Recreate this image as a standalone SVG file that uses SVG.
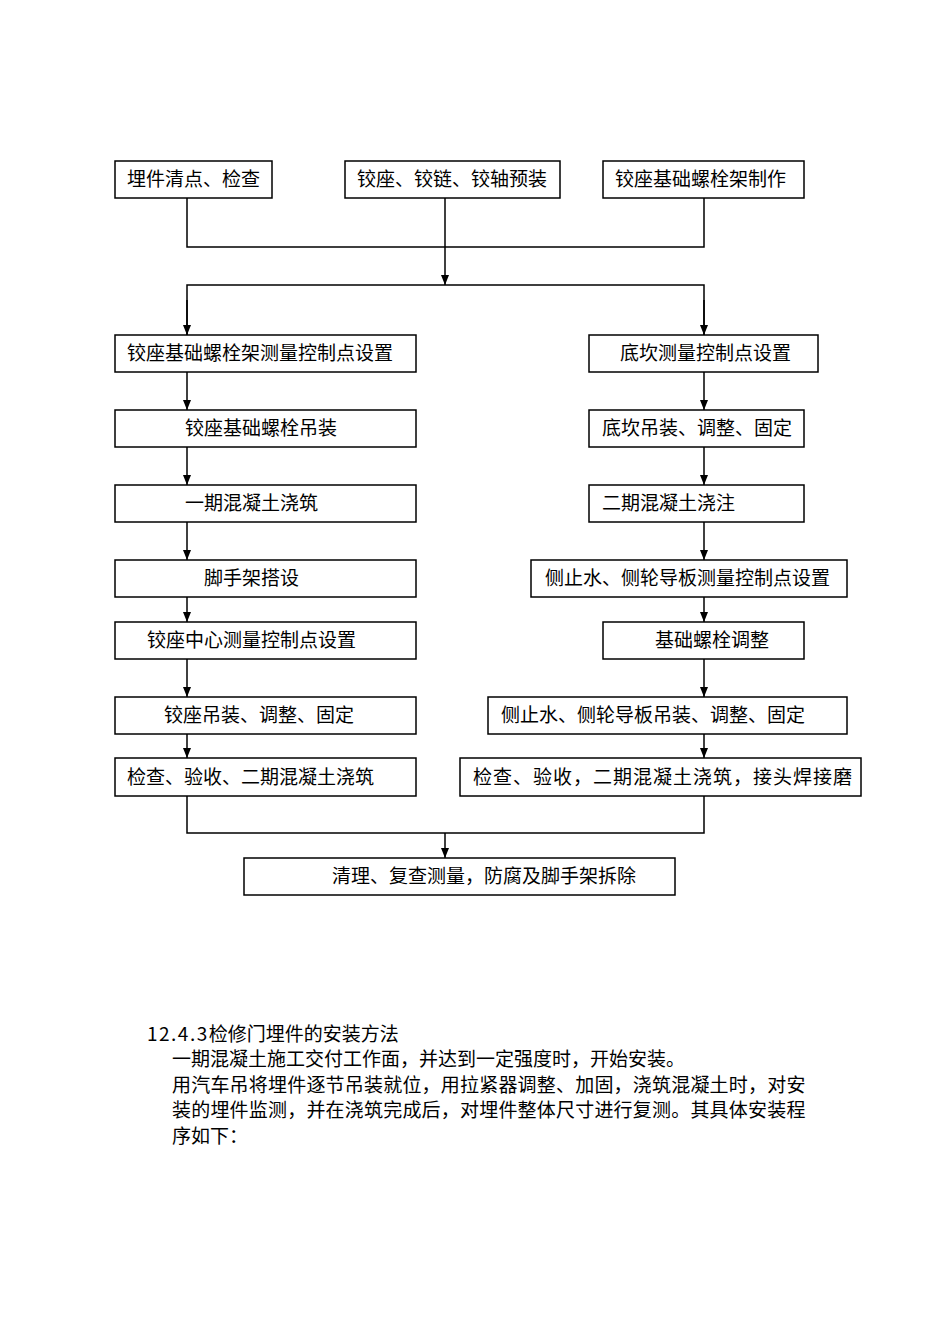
<svg xmlns="http://www.w3.org/2000/svg" width="950" height="1344" viewBox="0 0 950 1344">
<style>
.b{fill:#fff;stroke:#000;stroke-width:1.5}
.t{font-family:"Noto Sans CJK SC","Noto Sans CJK JP",sans-serif;font-size:19px;fill:#000}
.c{fill:none;stroke:#000;stroke-width:1.5}
</style>
<defs>
<marker id="a" markerUnits="userSpaceOnUse" markerWidth="10" markerHeight="10" refX="10" refY="4" orient="auto">
<path d="M0,0 L10,4 L0,8 z" fill="#000"/>
</marker>
</defs>
<rect width="950" height="1344" fill="#fff"/>
<g id="connectors">
<path class="c" d="M187,198 V247 H704 V198"/>
<path class="c" d="M445,198 V285" marker-end="url(#a)"/>
<path class="c" d="M187,335 V285 H704 V335" />
<path class="c" d="M187,300 V335" marker-end="url(#a)"/>
<path class="c" d="M704,300 V335" marker-end="url(#a)"/>
<path class="c" d="M187,372 V410" marker-end="url(#a)"/>
<path class="c" d="M187,447 V485" marker-end="url(#a)"/>
<path class="c" d="M187,522 V560" marker-end="url(#a)"/>
<path class="c" d="M187,597 V622" marker-end="url(#a)"/>
<path class="c" d="M187,659 V697" marker-end="url(#a)"/>
<path class="c" d="M187,734 V758" marker-end="url(#a)"/>
<path class="c" d="M704,372 V410" marker-end="url(#a)"/>
<path class="c" d="M704,447 V485" marker-end="url(#a)"/>
<path class="c" d="M704,522 V560" marker-end="url(#a)"/>
<path class="c" d="M704,597 V622" marker-end="url(#a)"/>
<path class="c" d="M704,659 V697" marker-end="url(#a)"/>
<path class="c" d="M704,734 V758" marker-end="url(#a)"/>
<path class="c" d="M187,796 V833 H704 V796"/>
<path class="c" d="M445,833 V858" marker-end="url(#a)"/>
</g>
<g id="n1"><rect class="b" x="115" y="161" width="157" height="37"/><text class="t" x="127" y="186">埋件清点、检查</text></g>
<g id="n2"><rect class="b" x="345" y="161" width="215" height="37"/><text class="t" x="357" y="186">铰座、铰链、铰轴预装</text></g>
<g id="n3"><rect class="b" x="603" y="161" width="201" height="37"/><text class="t" x="615" y="186">铰座基础螺栓架制作</text></g>
<g id="l1"><rect class="b" x="115" y="335" width="301" height="37"/><text class="t" x="127" y="360">铰座基础螺栓架测量控制点设置</text></g>
<g id="l2"><rect class="b" x="115" y="410" width="301" height="37"/><text class="t" x="185" y="435">铰座基础螺栓吊装</text></g>
<g id="l3"><rect class="b" x="115" y="485" width="301" height="37"/><text class="t" x="185" y="510">一期混凝土浇筑</text></g>
<g id="l4"><rect class="b" x="115" y="560" width="301" height="37"/><text class="t" x="204" y="585">脚手架搭设</text></g>
<g id="l5"><rect class="b" x="115" y="622" width="301" height="37"/><text class="t" x="147" y="647">铰座中心测量控制点设置</text></g>
<g id="l6"><rect class="b" x="115" y="697" width="301" height="37"/><text class="t" x="164" y="722">铰座吊装、调整、固定</text></g>
<g id="l7"><rect class="b" x="115" y="758" width="301" height="38"/><text class="t" x="127" y="784">检查、验收、二期混凝土浇筑</text></g>
<g id="r1"><rect class="b" x="589" y="335" width="229" height="37"/><text class="t" x="620" y="360">底坎测量控制点设置</text></g>
<g id="r2"><rect class="b" x="589" y="410" width="215" height="37"/><text class="t" x="602" y="435">底坎吊装、调整、固定</text></g>
<g id="r3"><rect class="b" x="589" y="485" width="215" height="37"/><text class="t" x="602" y="510">二期混凝土浇注</text></g>
<g id="r4"><rect class="b" x="531" y="560" width="316" height="37"/><text class="t" x="545" y="585">侧止水、侧轮导板测量控制点设置</text></g>
<g id="r5"><rect class="b" x="603" y="622" width="201" height="37"/><text class="t" x="655" y="647">基础螺栓调整</text></g>
<g id="r6"><rect class="b" x="488" y="697" width="359" height="37"/><text class="t" x="501" y="722">侧止水、侧轮导板吊装、调整、固定</text></g>
<g id="r7"><rect class="b" x="460" y="758" width="401" height="38"/><text class="t" x="473" y="784" letter-spacing="1">检查、验收，二期混凝土浇筑，接头焊接磨</text></g>
<g id="end"><rect class="b" x="244" y="858" width="431" height="37"/><text class="t" x="332" y="883">清理、复查测量，防腐及脚手架拆除</text></g>
<g id="body">
<text class="t" x="147" y="1041"><tspan letter-spacing="1.5">12.4.3</tspan>检修门埋件的安装方法</text>
<text class="t" x="172" y="1066">一期混凝土施工交付工作面，并达到一定强度时，开始安装。</text>
<text class="t" x="172" y="1092" letter-spacing="0.2">用汽车吊将埋件逐节吊装就位，用拉紧器调整、加固，浇筑混凝土时，对安</text>
<text class="t" x="172" y="1117" letter-spacing="0.2">装的埋件监测，并在浇筑完成后，对埋件整体尺寸进行复测。其具体安装程</text>
<text class="t" x="172" y="1143">序如下：</text>
</g>
</svg>
